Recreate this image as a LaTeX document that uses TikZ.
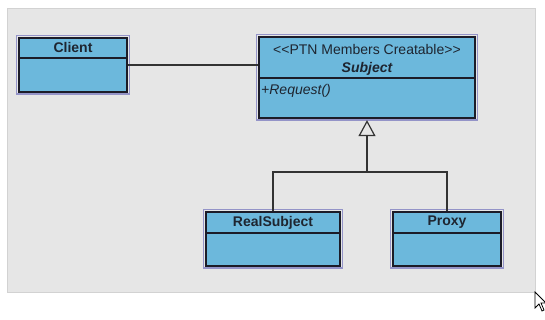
\documentclass[tikz,border=0pt]{standalone}
\usepackage{fontspec}
\setmainfont{Liberation Sans}
\usetikzlibrary{arrows.meta,calc}
\definecolor{bgfill}{HTML}{E6E6E6}
\definecolor{bgline}{HTML}{D2D2D2}
\definecolor{classfill}{HTML}{6CB8DC}
\definecolor{classline}{HTML}{1C1C28}
\definecolor{halo}{HTML}{9494C8}
\definecolor{conncol}{HTML}{333333}
\definecolor{txtcol}{HTML}{1E2530}
\tikzset{
  classbox/.style={draw=classline, fill=classfill, line width=1.3pt, minimum width=#1, inner sep=0pt},
  haloline/.style={draw=halo, line width=1.3pt},
  sepline/.style={draw=classline, line width=1.1pt},
  titletext/.style={font=\fontsize{14}{16}\selectfont\bfseries, text=txtcol, inner sep=0pt},
  stereotext/.style={font=\fontsize{14}{16}\selectfont, text=txtcol, inner sep=0pt},
  opertext/.style={font=\fontsize{14}{16}\selectfont\itshape, text=txtcol, inner sep=0pt, anchor=west},
  conn/.style={draw=conncol, line width=1.2pt},
  genarrow/.style={-{Triangle[open, length=16pt, width=17pt, line width=1.2pt]}}
}
\begin{document}
\begin{tikzpicture}[x=1pt,y=1pt]
\useasboundingbox (0,0) rectangle (545,320);
% background
\draw[fill=bgfill, draw=bgline, line width=0.8pt] (7,312) rectangle (535,28);

% Client
\node[classbox=108pt, minimum height=54pt] (client) at (73,255) {};
\draw[haloline] ($(client.south west)+(-2,-1.5)$) rectangle ($(client.north east)+(1.5,2)$);
\draw[sepline] (client.west |- 0,262) -- (client.east |- 0,262);
\node[titletext] (clientname) at (73,272) {Client};

% Subject
\node[classbox=216pt, minimum height=81pt] (subject) at (367,242.5) {};
\draw[haloline] ($(subject.south west)+(-2,-1.5)$) rectangle ($(subject.north east)+(1.5,2)$);
\draw[sepline] (subject.west |- 0,242) -- (subject.east |- 0,242);
\node[stereotext] (stereo) at (367,270) {<\kern0pt<PTN Members Creatable>\kern0pt>};
\node[titletext, font=\fontsize{14}{16}\selectfont\bfseries\itshape] (subjectname) at (367,251) {Subject};
\node[opertext] (request) at (261,229) {+Request()};

% RealSubject
\node[classbox=134pt, minimum height=54pt] (real) at (273,81) {};
\draw[haloline] ($(real.south west)+(-2,-1.5)$) rectangle ($(real.north east)+(1.5,2)$);
\draw[sepline] (real.west |- 0,87) -- (real.east |- 0,87);
\node[titletext] (realname) at (273,97.5) {RealSubject};

% Proxy
\node[classbox=108pt, minimum height=54pt] (proxy) at (447,81) {};
\draw[haloline] ($(proxy.south west)+(-2,-1.5)$) rectangle ($(proxy.north east)+(1.5,2)$);
\draw[sepline] (proxy.west |- 0,87) -- (proxy.east |- 0,87);
\node[titletext] (proxyname) at (447,97.5) {Proxy};

% connectors
\draw[conn] (client.east |- 0,255) -- (subject.west |- 0,255);
\coordinate (join) at (367,148);
\draw[conn] (real.north) |- (join) -| (proxy.north);
\draw[conn, genarrow] (join) -- ($(subject.south)+(0,-1.5)$);

% mouse cursor
\draw[fill=white, draw=black, line width=0.8pt, line join=miter]
  (535,28) -- (535,12) -- (539,16) -- (542,9) -- (544,10) -- (541,17) -- (546,17) -- cycle;
\end{tikzpicture}
\end{document}
